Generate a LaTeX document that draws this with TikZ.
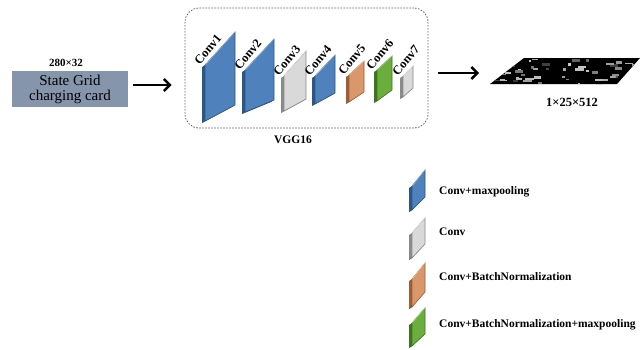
\documentclass[tikz,border=0pt]{standalone}
\usepackage{fontspec}
\setmainfont{Liberation Serif}
\usetikzlibrary{arrows.meta}

\definecolor{slabblue}{HTML}{4F81BD}
\definecolor{slabbluedark}{HTML}{2C5686}
\definecolor{slabgray}{HTML}{D9D9D9}
\definecolor{slabgraydark}{HTML}{8A8A8A}
\definecolor{slaborange}{HTML}{D9976B}
\definecolor{slaborangedark}{HTML}{9C5E36}
\definecolor{slabgreen}{HTML}{6CAE3E}
\definecolor{slabgreendark}{HTML}{3D7420}
\definecolor{cardgray}{HTML}{8595AC}

% thin 3-D slab: left x, right x, top-left y, top-right y, bottom-right y, bottom-left y, colour
\newcommand\slabshape[7]{%
  \fill[#7dark] (#1,#3) -- (#1-3,#3+2) -- (#1-3,#6+2) -- (#1,#6) -- cycle;
  \fill[#7dark!75!black] (#1,#6) -- (#1-3,#6+2) -- (#2-3,#5+2) -- (#2,#5) -- cycle;
  \filldraw[fill=#7, draw=#7dark, line width=0.6pt]
    (#1,#3) -- (#2,#4) -- (#2,#5) -- (#1,#6) -- cycle;
  \draw[white!55!#7, line width=0.5pt] (#1+0.6,#3-0.4) -- (#2-0.3,#4+0.3);
}
% label rising from the top-left corner of a slab: left x, top-left y, name, text
\newcommand\slablabel[4]{%
  \node[convlabel] (#3) at (#1-5,#2+1) {#4};
}

\tikzset{
  convlabel/.style={font=\bfseries\fontsize{12.5}{12.5}\selectfont, inner sep=0pt,
                    rotate=50, anchor=south west},
  legendtext/.style={font=\bfseries\fontsize{11.5}{12}\selectfont, anchor=west, inner sep=0pt},
  bigarrow/.style={-{Straight Barb[length=6pt,width=12pt,line width=2.4pt]}, line width=2.4pt, black},
}

\begin{document}
\begin{tikzpicture}[x=1pt, y=-1pt]
\useasboundingbox (0,0) rectangle (640,349);

% input image
\node[fill=cardgray, minimum width=116pt, minimum height=36pt, inner sep=0pt,
      align=center, font=\fontsize{15}{15}\selectfont] (card) at (70,89)
      {State Grid\\charging card};
\node[font=\bfseries\fontsize{11}{11}\selectfont, inner sep=0pt] (cardsize) at (66,63) {280×32};

% VGG16 block
\node[draw=black!60, dash pattern=on 1.6pt off 1.4pt, line width=0.8pt, rounded corners=14pt,
      minimum width=243pt, minimum height=120pt, inner sep=0pt] (vgg) at (306.5,68) {};
\node[font=\bfseries\fontsize{11.5}{12}\selectfont, inner sep=0pt] (vggname) at (293,140) {VGG16};

\slabshape{205}{235}{65}{32}{105}{121}{slabblue}
\slabshape{245}{274}{70}{39}{100}{112}{slabblue}
\slabshape{284}{306}{76}{51}{99}{111}{slabgray}
\slabshape{315}{335}{76}{55}{93}{104}{slabblue}
\slabshape{349}{364}{75}{61}{92}{102}{slaborange}
\slabshape{377}{392}{70}{56}{90}{101}{slabgreen}
\slabshape{403}{413}{76}{66}{88}{97}{slabgray}

\slablabel{205}{65}{l1}{Conv1}
\slablabel{245}{70}{l2}{Conv2}
\slablabel{284}{76}{l3}{Conv3}
\slablabel{315}{76}{l4}{Conv4}
\slablabel{349}{75}{l5}{Conv5}
\slablabel{377}{70}{l6}{Conv6}
\slablabel{403}{76}{l7}{Conv7}

% output feature map
\coordinate (fmapW) at (484,73);
\begin{scope}
  \clip (490,84) -- (524,58) -- (640,58) -- (617,84) -- cycle;
  \fill[black] (488,56) rectangle (640,86);
  \pgfmathsetseed{17}
  \foreach \k in {1,...,55}{
    \pgfmathsetmacro\px{490+rnd*150}
    \pgfmathsetmacro\py{58+rnd*26}
    \pgfmathsetmacro\pw{2+rnd*7}
    \pgfmathsetmacro\ph{1+rnd*1.8}
    \pgfmathsetmacro\pg{20+rnd*60}
    \fill[white!\pg!black] (\px,\py) rectangle ++(\pw,\ph);
  }
\end{scope}
\node[font=\bfseries\fontsize{12.5}{12.5}\selectfont, inner sep=0pt] (fmapsize) at (572,102) {1×25×512};

% arrows
\draw[bigarrow, shorten <=5pt, shorten >=13pt]
  ([yshift=4pt]card.east) -- ([yshift=4pt]card.east -| vgg.west);
\draw[bigarrow, shorten <=10pt, shorten >=5pt] (vgg.east |- fmapW) -- (fmapW);

% legend
\slabshape{412}{425}{186}{170}{197}{210}{slabblue}
\slabshape{412}{425}{233}{218}{244}{258}{slabgray}
\slabshape{412}{425}{279}{263}{292}{307}{slaborange}
\slabshape{412}{425}{323}{308}{334}{346}{slabgreen}
\node[legendtext] (lgA) at (439,192) {Conv+maxpooling};
\node[legendtext] (lgB) at (439,232) {Conv};
\node[legendtext] (lgC) at (439,277) {Conv+BatchNormalization};
\node[legendtext] (lgD) at (439,325) {Conv+BatchNormalization+maxpooling};
\end{tikzpicture}
\end{document}
